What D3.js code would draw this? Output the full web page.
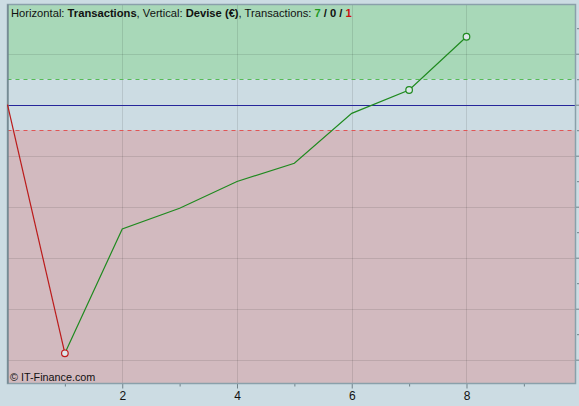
<!DOCTYPE html>
<html><head><meta charset="utf-8">
<script src="https://cdn.jsdelivr.net/npm/d3@7"></script>
<style>
html,body{margin:0;padding:0;background:#ccdce3;}
svg{display:block;}
</style></head>
<body>
<svg id="c" width="579" height="406"></svg>
<script>
// Data
const trades = [0, 1, 2, 3, 4, 5, 6, 7, 8];
const equity = [0, -4875, -2437, -2031, -1506, -1149, -169, 288, 1333];
const lossSegment = [0, 1];           // indices drawn in red
const redMarkers = [1];
const greenMarkers = [7, 8];
const upperLevel = 500;
const lowerLevel = -500;
const xTicks = [2, 4, 6, 8];
const xDomain = [0, 9.9];
const yDomain = [-5467, 1965];
const yGridStep = 1000;
const counts = ["7", "0", "1"];

const svg = d3.select("#c");
const L = 7.5, R = 575.5, T = 4.5, B = 383.5;
const x = d3.scaleLinear().domain(xDomain).range([L, R]);
const y = d3.scaleLinear().domain(yDomain).range([B, T]);

// zones
svg.append("rect").attr("x", L).attr("y", T).attr("width", R - L).attr("height", y(upperLevel) - T).attr("fill", "#a8d8b8");
svg.append("rect").attr("x", L).attr("y", y(upperLevel)).attr("width", R - L).attr("height", y(lowerLevel) - y(upperLevel)).attr("fill", "#ccdce3");
svg.append("rect").attr("x", L).attr("y", y(lowerLevel)).attr("width", R - L).attr("height", B - y(lowerLevel)).attr("fill", "#d2babf");

// grid
const yGrid = d3.range(Math.ceil(yDomain[0] / yGridStep) * yGridStep, yDomain[1], yGridStep).filter(v => v !== 0);
svg.append("g").selectAll("line").data(yGrid).join("line")
  .attr("x1", L).attr("x2", R).attr("y1", d => Math.round(y(d)) + 0.5).attr("y2", d => Math.round(y(d)) + 0.5)
  .attr("stroke", "#000").attr("stroke-opacity", 0.1);
svg.append("g").selectAll("line").data(xTicks).join("line")
  .attr("y1", T).attr("y2", B).attr("x1", d => Math.round(x(d)) + 0.5).attr("x2", d => Math.round(x(d)) + 0.5)
  .attr("stroke", "#000").attr("stroke-opacity", 0.1);

// level lines
svg.append("line").attr("x1", L).attr("x2", R).attr("y1", Math.round(y(upperLevel)) + 0.5).attr("y2", Math.round(y(upperLevel)) + 0.5)
  .attr("stroke", "#55bb55").attr("stroke-dasharray", "4,4");
svg.append("line").attr("x1", L).attr("x2", R).attr("y1", Math.round(y(lowerLevel)) + 0.5).attr("y2", Math.round(y(lowerLevel)) + 0.5)
  .attr("stroke", "#e05555").attr("stroke-dasharray", "4,4");
svg.append("line").attr("x1", L).attr("x2", R).attr("y1", Math.round(y(0)) + 0.5).attr("y2", Math.round(y(0)) + 0.5)
  .attr("stroke", "#26269a").attr("stroke-width", 1.1);

// axes ticks (bottom and right)
const bottom = d3.axisBottom(x).tickValues(d3.range(1, 10)).tickSize(3).tickFormat(d => xTicks.includes(d) ? d : "");
const gb = svg.append("g").attr("transform", `translate(0,${B})`).call(bottom);
gb.select(".domain").remove();
gb.selectAll(".tick line").attr("stroke", "#6f8088").attr("y2", d => xTicks.includes(d) ? 5 : 3);
gb.selectAll(".tick text").attr("fill", "#111").attr("font-family", "Liberation Sans, Arial, sans-serif").attr("font-size", 12).attr("dy", "0.9em");

const rightTicks = d3.range(Math.ceil(yDomain[0] / (yGridStep / 2)) * (yGridStep / 2), yDomain[1], yGridStep / 2);
const right = d3.axisRight(y).tickValues(rightTicks).tickSize(4).tickFormat("");
const gr = svg.append("g").attr("transform", `translate(${R},0)`).call(right);
gr.select(".domain").remove();
gr.selectAll(".tick line").attr("stroke", "#6f8088").attr("x1", d => d % yGridStep === 0 ? 0 : 1.5);

// frame
svg.append("rect").attr("x", L).attr("y", T).attr("width", R - L).attr("height", B - T)
  .attr("fill", "none").attr("stroke", "#8aa0aa").attr("stroke-width", 1.5);
svg.append("line").attr("x1", L + 0.5).attr("x2", L + 0.5).attr("y1", T).attr("y2", B).attr("stroke", "#6a7f88").attr("stroke-width", 1.2);

// lines
const pts = trades.map((t, i) => [t, equity[i]]);
const line = d3.line().x(d => x(d[0])).y(d => y(d[1]));
svg.append("path").attr("d", line(pts.slice(lossSegment[0], lossSegment[1] + 1)))
  .attr("fill", "none").attr("stroke", "#bb1a1a").attr("stroke-width", 1.2);
svg.append("path").attr("d", line(pts.slice(lossSegment[1])))
  .attr("fill", "none").attr("stroke", "#1f8a1f").attr("stroke-width", 1.2);

// markers
svg.append("g").selectAll("circle").data(redMarkers).join("circle")
  .attr("cx", i => x(trades[i])).attr("cy", i => y(equity[i])).attr("r", 3.3)
  .attr("fill", "#dde6ea").attr("stroke", "#c01818").attr("stroke-width", 1.2);
svg.append("g").selectAll("circle").data(greenMarkers).join("circle")
  .attr("cx", i => x(trades[i])).attr("cy", i => y(equity[i])).attr("r", 3.3)
  .attr("fill", "#dde6ea").attr("stroke", "#1f8a1f").attr("stroke-width", 1.2);

// title
const title = svg.append("text").attr("x", 11).attr("y", 17)
  .attr("font-family", "Liberation Sans, Arial, sans-serif").attr("font-size", 11.2).attr("fill", "#111");
title.append("tspan").text("Horizontal: ");
title.append("tspan").attr("font-weight", "bold").text("Transactions");
title.append("tspan").text(", Vertical: ");
title.append("tspan").attr("font-weight", "bold").text("Devise (€)");
title.append("tspan").text(", Transactions: ");
title.append("tspan").attr("font-weight", "bold").attr("fill", "#1f9a1f").text(counts[0]);
title.append("tspan").attr("font-weight", "bold").text(" / ");
title.append("tspan").attr("font-weight", "bold").attr("fill", "#111").text(counts[1]);
title.append("tspan").attr("font-weight", "bold").text(" / ");
title.append("tspan").attr("font-weight", "bold").attr("fill", "#cc1111").text(counts[2]);

svg.append("text").attr("x", 10).attr("y", 381)
  .attr("font-family", "Liberation Sans, Arial, sans-serif").attr("font-size", 10.8).attr("fill", "#111")
  .text("© IT-Finance.com");
</script>
</body></html>
